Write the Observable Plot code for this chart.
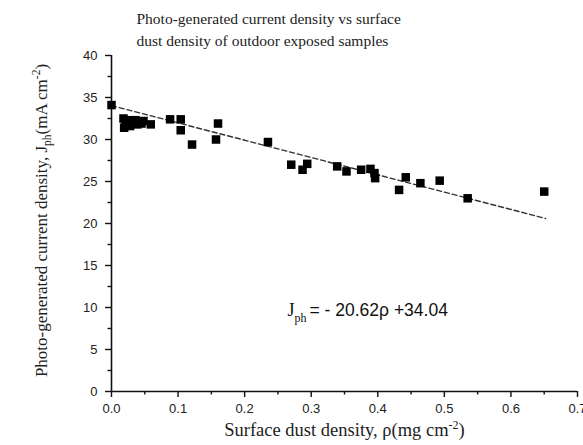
<!DOCTYPE html>
<html><head><meta charset="utf-8">
<script src="https://cdn.jsdelivr.net/npm/d3@7"></script>
<script src="https://cdn.jsdelivr.net/npm/@observablehq/plot@0.6"></script>
<style>html,body{margin:0;padding:0;background:#fff} svg{display:block}</style>
</head><body><div id="chart"></div>
<script>
// ---- data ----
const dustDensity = [0.000, 0.018, 0.019, 0.021, 0.023, 0.025, 0.028, 0.030, 0.033, 0.036, 0.039, 0.042, 0.045, 0.048, 0.059,
  0.088, 0.104, 0.104, 0.121, 0.157, 0.160, 0.235, 0.270, 0.287, 0.294, 0.339, 0.353, 0.375, 0.389, 0.395, 0.396,
  0.432, 0.442, 0.464, 0.493, 0.535, 0.650];
const currentDensity = [34.1, 32.5, 31.4, 32.0, 31.7, 32.3, 31.6, 32.2, 31.9, 32.3, 31.8, 32.1, 31.9, 32.2, 31.8,
  32.4, 32.4, 31.1, 29.4, 30.0, 31.9, 29.7, 27.0, 26.4, 27.1, 26.8, 26.2, 26.4, 26.5, 26.0, 25.4,
  24.0, 25.5, 24.8, 25.1, 23.0, 23.8];
const fitLineX = [0, 0.652];
const fitLineY = [34.04, 20.60];

const xTickValues = [0, 0.1, 0.2, 0.3, 0.4, 0.5, 0.6, 0.7];
const xTickLabels = ["0.0", "0.1", "0.2", "0.3", "0.4", "0.5", "0.6", "0.7"];
const xMinorTicks = [0.05, 0.15, 0.25, 0.35, 0.45, 0.55, 0.65];
const yTickValues = [0, 5, 10, 15, 20, 25, 30, 35, 40];
const yTickLabels = ["0", "5", "10", "15", "20", "25", "30", "35", "40"];
const yMinorTicks = [2.5, 7.5, 12.5, 17.5, 22.5, 27.5, 32.5, 37.5];

const titleLines = ["Photo-generated current density vs surface", "dust density of outdoor exposed samples"];
const xLabelParts = [{text: "Surface dust density, ρ(mg cm"}, {text: "-2", kind: "sup"}, {text: ")"}];
const yLabelParts = [{text: "Photo-generated current density, J"}, {text: "ph", kind: "sub"}, {text: "(mA cm"}, {text: "-2", kind: "sup"}, {text: ")"}];
const equationParts = [{text: "J"}, {text: "ph", kind: "sub"}, {text: "= - 20.62ρ +34.04", kind: "sans"}];

// ---- build ----
const points = dustDensity.map((x, i) => ({x, y: currentDensity[i]}));
const fit = fitLineX.map((x, i) => ({x, y: fitLineY[i]}));
const plain = parts => parts.map(p => p.text).join("");
const serif = "'Liberation Serif', 'Times New Roman', serif";
const sans = "'Liberation Sans', Arial, sans-serif";

const plot = Plot.plot({
  width: 583, height: 445,
  marginLeft: 111, marginRight: 6, marginTop: 55, marginBottom: 54,
  style: {fontFamily: sans, fontSize: "13px", color: "#111", background: "#fff", overflow: "visible"},
  x: {domain: [0, 0.7]},
  y: {domain: [0, 40]},
  marks: [
    Plot.axisX({ticks: xTickValues, tickSize: 6, tickPadding: 6, strokeWidth: 1.4, label: null,
      tickFormat: d => xTickLabels[xTickValues.indexOf(d)], fontSize: 13, fill: "#222"}),
    Plot.axisX({ticks: xMinorTicks, tickSize: 3.5, strokeWidth: 1.4, label: null, tickFormat: () => ""}),
    Plot.axisY({ticks: yTickValues, tickSize: 6, tickPadding: 8, strokeWidth: 1.4, label: null,
      tickFormat: d => yTickLabels[yTickValues.indexOf(d)], fontSize: 13, fill: "#222"}),
    Plot.axisY({ticks: yMinorTicks, tickSize: 3.5, strokeWidth: 1.4, label: null, tickFormat: () => ""}),
    Plot.ruleY([0], {stroke: "#111", strokeWidth: 1.6}),
    Plot.ruleX([0], {stroke: "#111", strokeWidth: 1.6}),
    Plot.line(fit, {x: "x", y: "y", stroke: "#333", strokeWidth: 1.4, strokeDasharray: "5,3"}),
    Plot.dot(points, {x: "x", y: "y", symbol: "square", r: 4.8, fill: "#000", stroke: null}),
    Plot.text([titleLines.join("\n")], {frameAnchor: "top-left", dx: 25, dy: -9.5, textAnchor: "start",
      lineAnchor: "bottom", lineHeight: 1.45, fontFamily: serif, fontSize: 15.5, fill: "#222"}),
    Plot.text([plain(xLabelParts)], {frameAnchor: "bottom", dy: 44, lineAnchor: "bottom", textAnchor: "middle",
      fontFamily: serif, fontSize: 18.5, fill: "#222"}),
    Plot.text([plain(yLabelParts)], {frameAnchor: "left", dx: -65, dy: -3, rotate: -90, lineAnchor: "bottom", textAnchor: "middle",
      fontFamily: serif, fontSize: 17, fill: "#222"}),
    Plot.text([plain(equationParts)], {frameAnchor: "top-left", dx: 176, dy: 260, textAnchor: "start",
      lineAnchor: "bottom", fontFamily: serif, fontSize: 18, fill: "#111"})
  ]
});
document.getElementById("chart").appendChild(plot);

// rich text (sub/superscripts) — find the text element by its content
function richText(parts, opts) {
  const full = plain(parts);
  const t = d3.select(plot).selectAll("text").filter(function() { return this.textContent === full; });
  if (t.empty()) return;
  t.text(null);
  let shift = 0;
  parts.forEach(p => {
    const s = t.append("tspan").text(p.text);
    let target = 0;
    if (p.kind === "sub") { target = opts.sub; s.attr("font-size", opts.small); }
    else if (p.kind === "sup") { target = -opts.sup; s.attr("font-size", opts.small); }
    else if (p.kind === "sans") { s.attr("font-family", sans).attr("font-size", opts.sansSize).attr("dx", 3); }
    if (target !== shift) { s.attr("dy", target - shift); shift = target; }
  });
}
richText(xLabelParts, {sub: 4, sup: 7, small: 12});
richText(yLabelParts, {sub: 4, sup: 7, small: 11.5});
richText(equationParts, {sub: 6, sup: 6, small: 12, sansSize: 17.5});
</script>
</body></html>
